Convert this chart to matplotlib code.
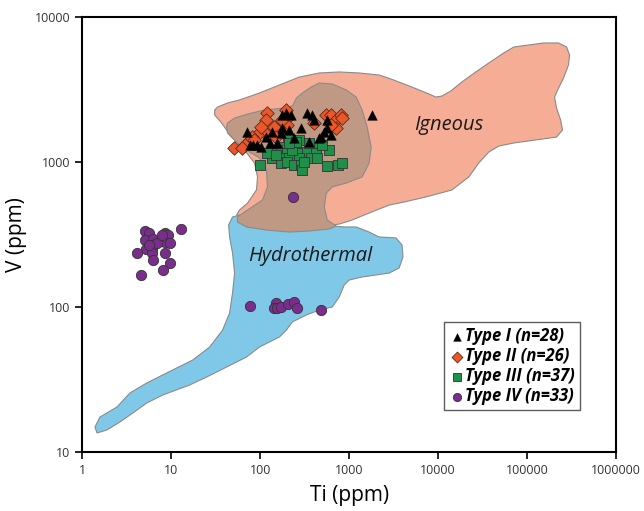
import numpy as np
import matplotlib
matplotlib.use("Agg")
import matplotlib.pyplot as plt
from matplotlib.patches import Polygon
from matplotlib.ticker import FixedLocator, FuncFormatter, NullLocator

plt.rcParams['font.family'] = ['Open Sans', 'DejaVu Sans']

# ---------------- data (Ti ppm, V ppm) ----------------
type1_ti = [177, 197, 224, 338, 385, 405, 566, 566, 1811, 70, 134, 173, 177, 213,
            290, 485, 525, 629, 82, 93, 103, 76, 127, 156, 242, 356, 117, 461]
type1_v = [2109, 2178, 2109, 2178, 2109, 1950, 1950, 1715, 2109, 1610, 1610, 1585, 1715, 1663,
           1715, 1486, 1610, 1535, 1310, 1310, 1268, 1310, 1352, 1352, 1464, 1374, 1486, 1464]

type2_ti = [120, 117, 197, 202, 202, 164, 144, 111, 93, 80, 72, 86, 67, 51,
            552, 629, 715, 813, 835, 715, 405, 629, 103, 152, 62, 177]
type2_v = [2178, 1950, 2286, 2011, 1799, 1715, 1742, 1610, 1535, 1486, 1374, 1419, 1310, 1250,
           2109, 2109, 1950, 2109, 2011, 1715, 1857, 1799, 1742, 1486, 1250, 1950]

type3_ti = [207, 275, 224, 187, 254, 156, 134, 173, 202, 275, 338, 427, 427, 597,
            137, 173, 213, 275, 375, 173, 202, 242, 290, 297, 98, 566, 753, 835,
            120, 230, 356, 438, 152, 254, 313, 213, 498]
type3_v = [1464, 1419, 1310, 1268, 1268, 1211, 1153, 1153, 1153, 1153, 1172, 1268, 1153, 1211,
           1066, 1066, 1066, 1066, 1066, 984, 1000, 953, 953, 881, 953, 938, 953, 984,
           1153, 1211, 1352, 1066, 1117, 1374, 1000, 1352, 1310]

type4_ti = [5.03, 5.58, 8.43, 9.12, 5.03, 6.19, 7.80, 8.43, 9.60, 6.19, 5.16, 6.03, 6.03, 4.09,
            8.43, 6.19, 9.60, 8.01, 4.54, 12.7, 6.86, 5.58, 77.6, 152, 144, 156, 173, 207,
            242, 261, 485, 235, 7.80]
type4_v = [334, 324, 324, 314, 290, 294, 285, 281, 276, 268, 251, 251, 236, 236,
           236, 211, 201, 180, 166, 345, 276, 268, 102, 107, 98, 98, 100, 105,
           108, 98, 95, 574, 314]

legend_labels = ["Type I (n=28)", "Type II (n=26)", "Type III (n=37)", "Type IV (n=33)"]

# field outlines, log10(Ti), log10(V)
igneous_logti = [1.487, 1.520, 1.632, 1.767, 1.991, 2.215, 2.439, 2.664, 2.888, 3.112, 3.336, 3.471,
                 3.617, 3.762, 3.897, 3.975, 4.043, 4.143, 4.267, 4.424, 4.570, 4.738, 4.850, 5.018,
                 5.186, 5.354, 5.444, 5.478, 5.466, 5.410, 5.354, 5.309, 5.332, 5.377, 5.399, 5.332,
                 5.097, 4.850, 4.682, 4.570, 4.457, 4.345, 4.155, 3.863, 3.617, 3.449, 3.224, 3.033,
                 2.888, 2.720, 2.439, 2.103, 1.823, 1.733, 1.767, 1.857, 1.957, 1.969, 1.935, 1.823,
                 1.677, 1.565, 1.487]
igneous_logv = [3.359, 3.379, 3.407, 3.428, 3.476, 3.531, 3.586, 3.614, 3.621, 3.614, 3.600, 3.572,
                3.538, 3.503, 3.469, 3.448, 3.455, 3.490, 3.552, 3.621, 3.683, 3.752, 3.793, 3.807,
                3.821, 3.821, 3.793, 3.738, 3.669, 3.579, 3.510, 3.448, 3.372, 3.290, 3.221, 3.172,
                3.152, 3.131, 3.110, 3.069, 2.993, 2.897, 2.807, 2.759, 2.724, 2.703, 2.648, 2.600,
                2.572, 2.559, 2.559, 2.572, 2.614, 2.634, 2.669, 2.717, 2.807, 2.897, 2.993, 3.083,
                3.172, 3.269, 3.324]

overlap_logti = [1.621, 1.632, 1.711, 1.857, 2.047, 2.271, 2.361, 2.406, 2.473, 2.574, 2.664, 2.809,
                 2.966, 3.078, 3.145, 3.202, 3.247, 3.224, 3.145, 2.966, 2.809, 2.742, 2.720, 2.753,
                 2.854, 2.776, 2.551, 2.327, 2.069, 1.845, 1.744, 1.744, 1.857, 2.025, 2.081, 2.069,
                 1.991, 1.789, 1.632]
overlap_logv = [3.241, 3.269, 3.303, 3.331, 3.359, 3.372, 3.386, 3.441, 3.476, 3.517, 3.545, 3.538,
                3.497, 3.448, 3.359, 3.241, 3.103, 2.993, 2.897, 2.855, 2.828, 2.786, 2.690, 2.600,
                2.559, 2.538, 2.524, 2.517, 2.531, 2.552, 2.586, 2.621, 2.669, 2.738, 2.828, 2.945,
                3.028, 3.103, 3.200]

hydro_logti = [1.644, 1.688, 1.767, 1.991, 2.327, 2.664, 2.809, 2.944, 3.078, 3.224, 3.336, 3.527,
               3.594, 3.605, 3.561, 3.449, 3.145, 3.000, 2.944, 2.888, 2.809, 2.664, 2.518, 2.361,
               2.294, 2.215, 1.991, 1.845, 1.621, 1.397, 1.206, 0.903, 0.724, 0.567, 0.422, 0.276,
               0.164, 0.141, 0.197, 0.388, 0.534, 0.724, 1.016, 1.240, 1.431, 1.576, 1.655, 1.688,
               1.711, 1.688, 1.655]
hydro_logv = [2.566, 2.621, 2.634, 2.614, 2.600, 2.586, 2.559, 2.552, 2.552, 2.517, 2.483, 2.476,
              2.428, 2.345, 2.269, 2.234, 2.207, 2.186, 2.152, 2.069, 2.000, 1.979, 1.945, 1.897,
              1.841, 1.793, 1.724, 1.655, 1.586, 1.517, 1.462, 1.393, 1.338, 1.269, 1.207, 1.152,
              1.131, 1.172, 1.241, 1.310, 1.407, 1.476, 1.566, 1.634, 1.724, 1.841, 1.959, 2.097,
              2.234, 2.372, 2.483]

# ---------------- figure ----------------
fig = plt.figure(figsize=(6.44, 5.11), dpi=100)
ax = fig.add_axes([0.128, 0.1155, 0.8285, 0.8512])
ax.set_xscale('log')
ax.set_yscale('log')
ax.set_xlim(1, 1e6)
ax.set_ylim(10, 1e4)


def field(lx, ly, color, z):
    pts = np.column_stack([np.power(10.0, lx), np.power(10.0, ly)])
    ax.add_patch(Polygon(pts, closed=True, facecolor=color, edgecolor='#8a8a8a',
                         linewidth=0.8, zorder=z))


field(igneous_logti, igneous_logv, '#f6ad95', 1)
field(hydro_logti, hydro_logv, '#80c8e8', 2)
field(overlap_logti, overlap_logv, '#c09984', 3)

ax.text(10 ** 4.12, 10 ** 3.255, "Igneous", fontsize=14.5, style='italic', ha='center',
        va='center', color='#1a1a1a', zorder=4)
ax.text(10 ** 2.565, 10 ** 2.35, "Hydrothermal", fontsize=14.5, style='italic', ha='center',
        va='center', color='#1a1a1a', zorder=4)

ax.scatter(type4_ti, type4_v, s=55, marker='o', facecolor='#7b2d8e', edgecolor='#333333',
           linewidth=0.6, zorder=5, label=legend_labels[3])
ax.scatter(type3_ti, type3_v, s=55, marker='s', facecolor='#1f8f4a', edgecolor='#333333',
           linewidth=0.6, zorder=6, label=legend_labels[2])
ax.scatter(type2_ti, type2_v, s=48, marker='D', facecolor='#e9572b', edgecolor='#5a2a1a',
           linewidth=0.6, zorder=7, label=legend_labels[1])
ax.scatter(type1_ti, type1_v, s=48, marker='^', facecolor='black', edgecolor='black',
           linewidth=0.3, zorder=8, label=legend_labels[0])

ax.xaxis.set_major_locator(FixedLocator([1, 10, 100, 1e3, 1e4, 1e5, 1e6]))
ax.yaxis.set_major_locator(FixedLocator([10, 100, 1e3, 1e4]))
ax.xaxis.set_minor_locator(NullLocator())
ax.yaxis.set_minor_locator(NullLocator())
fmt = FuncFormatter(lambda v, p: "%d" % int(round(v)))
ax.xaxis.set_major_formatter(fmt)
ax.yaxis.set_major_formatter(fmt)
ax.tick_params(direction='out', length=5, width=1.2, labelsize=9, labelcolor='#333333')
for sp in ax.spines.values():
    sp.set_linewidth(1.5)

ax.set_xlabel("Ti (ppm)", fontsize=15, labelpad=6)
ax.set_ylabel("V (ppm)", fontsize=15, labelpad=6)

handles, labels = ax.get_legend_handles_labels()
order = [3, 2, 1, 0]
leg = ax.legend([handles[i] for i in order], [labels[i] for i in order],
                loc='lower right', bbox_to_anchor=(0.9325, 0.0966), borderaxespad=0.0,
                frameon=True, fancybox=False,
                edgecolor='#333333', handletextpad=0.05, borderpad=0.3, labelspacing=0.12,
                handlelength=0.9, markerscale=0.8,
                prop={'weight': 'bold', 'style': 'italic', 'size': 12})
leg.get_frame().set_linewidth(1.0)

fig.savefig("out.png", dpi=100)
